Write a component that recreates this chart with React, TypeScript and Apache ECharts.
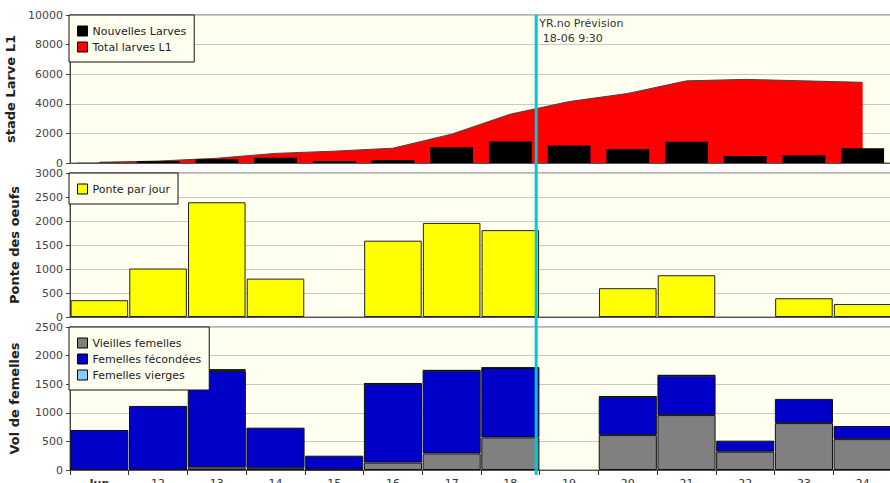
import React, { useEffect, useRef } from "react";
import * as echarts from "echarts";

const days = ["Jun", "12", "13", "14", "15", "16", "17", "18", "19", "20", "21", "22", "23", "24"];
const nouvellesLarves = [20, 120, 250, 360, 135, 200, 1060, 1460, 1190, 925, 1440, 470, 520, 990];
const totalLarves = [50, 130, 320, 650, 800, 1000, 1950, 3300, 4150, 4700, 5550, 5650, 5550, 5450];
const ponteParJour = [350, 1010, 2390, 800, 0, 1590, 1960, 1810, 0, 600, 870, 0, 390, 270];
const vieillesFemelles = [0, 0, 45, 30, 10, 130, 290, 570, 0, 610, 960, 320, 820, 540];
const femellesFecondees = [700, 1120, 1684, 710, 240, 1375, 1446, 1213, 0, 670, 689, 193, 423, 230];
const femellesVierges = [0, 0, 35, 0, 0, 15, 10, 10, 0, 10, 10, 0, 0, 0];
const forecastTime = 18.44; // 18-06 9:30 position on day scale
const forecastLabel = "YR.no Prévision\n 18-06 9:30";

const FONT = "DejaVu Sans";
const nz = (a: number[]) => a.map((v) => (v === 0 ? "-" : v));

export default function App() {
  const ref = useRef<HTMLDivElement>(null);
  useEffect(() => {
    const chart = echarts.init(ref.current!, undefined, { renderer: "svg" });
    const gridBase = {
      left: 70,
      width: 822,
      show: true,
      backgroundColor: "#fffff0",
      borderColor: "#666",
      borderWidth: 1,
      containLabel: false,
      outerBoundsMode: "none",
    };
    const yBase = (gi: number, max: number, interval: number, name: string) => ({
      type: "value",
      gridIndex: gi,
      min: 0,
      max,
      interval,
      name,
      nameLocation: "middle",
      nameGap: 49,
      nameTextStyle: { fontFamily: FONT, fontSize: 13, fontWeight: "bold", color: "#222" },
      axisLine: { show: true, lineStyle: { color: "#444" } },
      axisTick: { show: true, length: 4, lineStyle: { color: "#444" } },
      axisLabel: {
        margin: 7,
        fontFamily: FONT,
        fontSize: 11,
        color: "#444",
        formatter: (v: number) => String(v),
      },
      splitLine: { lineStyle: { color: "#c8c8c8" } },
    });
    const xBase = (gi: number, labels: boolean) => ({
      type: "category",
      gridIndex: gi,
      data: days,
      axisLine: { lineStyle: { color: "#555" } },
      axisTick: { show: labels, length: 5, lineStyle: { color: "#333" } },
      axisLabel: labels
        ? {
            margin: 8,
            fontFamily: FONT,
            fontSize: 11,
            color: "#333",
            formatter: (v: string, i: number) => (i === 0 ? "{b|" + v + "}" : v),
            rich: { b: { fontFamily: FONT, fontSize: 11, fontWeight: "bold", color: "#333" } },
          }
        : { show: false },
      splitLine: { show: false },
    });
    const legendBase = {
      orient: "vertical",
      left: 69,
      icon: "rect",
      itemWidth: 10,
      itemHeight: 10,
      itemGap: 2,
      padding: [9, 8, 8, 8],
      borderColor: "#111",
      borderWidth: 1,
      backgroundColor: "#fffff0",
      selectedMode: false,
      textStyle: { fontFamily: FONT, fontSize: 11, color: "#222", lineHeight: 14 },
      itemStyle: { borderColor: "#000", borderWidth: 1 },
    };
    const option: any = {
      animation: false,
      backgroundColor: "#fff",
      grid: [
        { ...gridBase, top: 15, height: 148 },
        { ...gridBase, top: 173, height: 144 },
        { ...gridBase, top: 327, height: 143 },
      ],
      xAxis: [
        xBase(0, false),
        xBase(1, false),
        xBase(2, true),
        { type: "value", gridIndex: 0, min: 10.5, max: 24.5, show: false },
      ],
      yAxis: [
        yBase(0, 10000, 2000, "stade Larve L1"),
        yBase(1, 3000, 500, "Ponte des oeufs"),
        yBase(2, 2500, 500, "Vol de femelles"),
      ],
      legend: [
        {
          ...legendBase,
          top: 15,
          data: [
            { name: "Nouvelles Larves" },
            { name: "Total larves L1", itemStyle: { color: "#ff0000", borderColor: "#000", borderWidth: 1 } },
          ],
        },
        { ...legendBase, top: 173, data: [{ name: "Ponte par jour" }] },
        {
          ...legendBase,
          top: 327,
          data: [{ name: "Vieilles femelles" }, { name: "Femelles fécondées" }, { name: "Femelles vierges" }],
        },
      ],
      series: [
        {
          name: "Total larves L1",
          type: "line",
          xAxisIndex: 0,
          yAxisIndex: 0,
          data: totalLarves,
          symbol: "none",
          color: "#ff0000",
          itemStyle: { color: "#ff0000" },
          lineStyle: { color: "#444", width: 1 },
          areaStyle: { color: "#ff0000", opacity: 1 },
          z: 1,
        },
        {
          name: "Nouvelles Larves",
          type: "bar",
          xAxisIndex: 0,
          yAxisIndex: 0,
          data: nz(nouvellesLarves),
          barCategoryGap: "27%",
          itemStyle: { color: "#000" },
          z: 3,
        },
        {
          name: "Ponte par jour",
          type: "bar",
          xAxisIndex: 1,
          yAxisIndex: 1,
          data: nz(ponteParJour),
          barCategoryGap: "2%",
          itemStyle: { color: "#ffff00", borderColor: "#222", borderWidth: 1 },
        },
        {
          name: "Vieilles femelles",
          type: "bar",
          stack: "f",
          xAxisIndex: 2,
          yAxisIndex: 2,
          data: nz(vieillesFemelles),
          barCategoryGap: "1%",
          itemStyle: { color: "#808080", borderColor: "#111", borderWidth: 1 },
        },
        {
          name: "Femelles fécondées",
          type: "bar",
          stack: "f",
          xAxisIndex: 2,
          yAxisIndex: 2,
          data: nz(femellesFecondees),
          barCategoryGap: "1%",
          itemStyle: { color: "#0000c8", borderColor: "#111", borderWidth: 1 },
        },
        {
          name: "Femelles vierges",
          type: "bar",
          stack: "f",
          xAxisIndex: 2,
          yAxisIndex: 2,
          data: nz(femellesVierges),
          barCategoryGap: "1%",
          itemStyle: { color: "#88ccf8", borderColor: "#111", borderWidth: 1 },
        },
        { name: "_marker", type: "scatter", xAxisIndex: 3, yAxisIndex: 0, data: [] },
      ],
    };
    chart.setOption(option);
    const x = chart.convertToPixel({ xAxisIndex: 3 } as any, forecastTime) as number;
    const yTop = chart.convertToPixel({ yAxisIndex: 0 } as any, 10000) as number;
    const yBot = (chart.convertToPixel({ yAxisIndex: 2 } as any, 0) as number) + 5;
    chart.setOption({
      graphic: [
        {
          type: "line",
          shape: { x1: x, y1: yTop, x2: x, y2: yBot },
          style: { stroke: "#00c8d2", lineWidth: 3 },
          z: 100,
        },
        {
          type: "text",
          x: x + 3,
          y: yTop + 0.5,
          style: {
            text: forecastLabel,
            font: "11px " + FONT,
            fill: "#333",
            lineHeight: 15,
            verticalAlign: "top",
          },
          z: 100,
        },
      ],
    });
    return () => chart.dispose();
  }, []);
  return <div ref={ref} style={{ position: "fixed", left: 0, top: 0, width: 890, height: 483 }} />;
}
